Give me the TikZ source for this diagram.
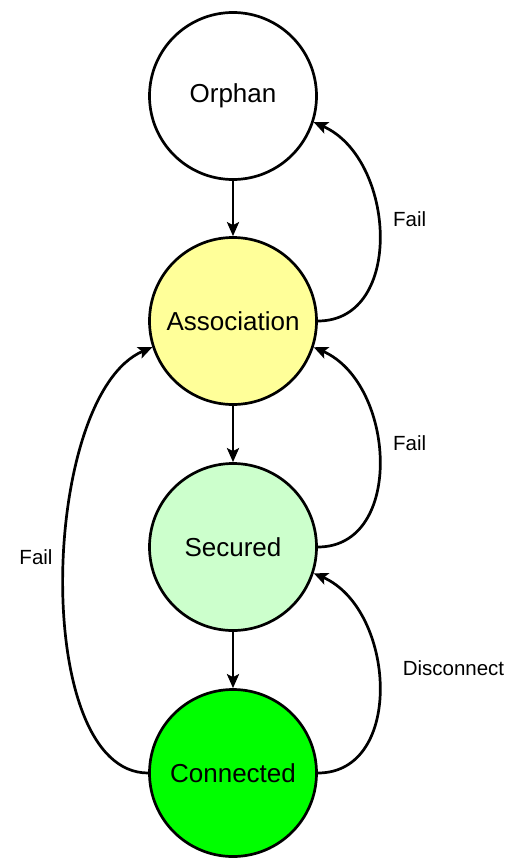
\documentclass[tikz,border=0pt]{standalone}
\usepackage{fontspec}
\setmainfont{Liberation Sans}
\usetikzlibrary{arrows.meta}
\definecolor{assocfill}{RGB}{255,255,153}
\definecolor{securefill}{RGB}{204,255,204}
\definecolor{connfill}{RGB}{0,255,0}
\begin{document}
\begin{tikzpicture}[x=1pt,y=-1pt,
  state/.style={circle,draw=black,line width=2.7pt,minimum size=167pt,inner sep=0pt,
    font=\fontsize{26}{30}\selectfont},
  lab/.style={font=\fontsize{20.5}{24}\selectfont,inner sep=0pt},
  conn/.style={line width=2.7pt,-{Stealth[length=14pt,width=12pt,inset=3pt]}}]
\useasboundingbox (0,0) rectangle (519,859);
\node[state,fill=white] (orphan) at (233,96) {Orphan};
\node[state,fill=assocfill] (assoc) at (233,321) {Association};
\node[state,fill=securefill] (sec) at (233,547) {Secured};
\node[state,fill=connfill] (con) at (233,773) {Connected};
\draw[conn] (orphan.south) -- (assoc.north);
\draw[conn] (assoc.south) -- (sec.north);
\draw[conn] (sec.south) -- (con.north);
\draw[conn] (assoc.east) .. controls +(87,0) and +(82,36) .. (orphan.-18);
\draw[conn] (sec.east) .. controls +(87,0) and +(82,36) .. (assoc.-18);
\draw[conn] (con.east) .. controls +(87,0) and +(82,36) .. (sec.-18);
\draw[conn] (con.west) .. controls (30,773) and (40,395) .. (assoc.198);
\node[lab,anchor=west] (f1) at (393,219) {Fail};
\node[lab,anchor=west] (f2) at (393,443) {Fail};
\node[lab] (dc) at (453.5,668) {Disconnect};
\node[lab] (f3) at (36,557) {Fail};
\end{tikzpicture}
\end{document}
